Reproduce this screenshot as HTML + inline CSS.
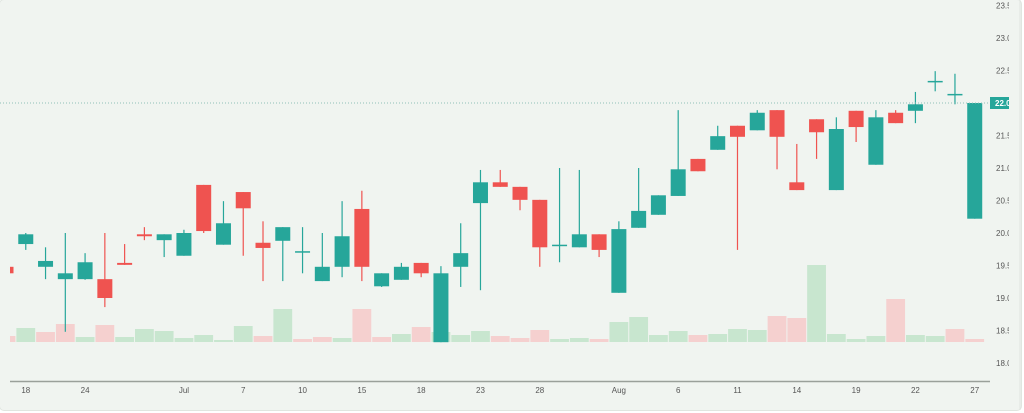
<!DOCTYPE html>
<html><head><meta charset="utf-8"><style>
body{margin:0;width:1024px;height:413px;overflow:hidden;background:#fff;font-family:"Liberation Sans",sans-serif}
#card{position:absolute;left:0;top:0;width:1021px;height:410px;background:#f0f4f0;border-radius:4px;box-shadow:0 0 0 1px #e0e6e0}
svg{position:absolute;left:0;top:0}
</style></head><body>
<div id="card"></div>
<svg id="chart" width="1024" height="413"></svg>
<script>
const opens  =[19.48,19.83,19.48,19.29,19.29,19.29,19.54,19.98,19.89,19.65,20.74,19.82,20.63,19.85,19.88,19.71,19.26,19.48,20.37,19.18,19.28,19.54,18.32,19.48,20.46,20.78,20.71,20.51,19.80,19.78,19.98,19.08,20.08,20.28,20.57,21.14,21.28,21.65,21.58,21.89,20.78,21.75,20.66,21.88,21.05,21.85,21.88,22.34,22.14,20.22];
const closes =[19.38,19.98,19.57,19.38,19.55,19.00,19.51,19.95,19.98,20.00,20.03,20.15,20.38,19.77,20.09,19.72,19.48,19.95,19.48,19.38,19.48,19.38,19.38,19.69,20.78,20.71,20.51,19.78,19.82,19.98,19.74,20.06,20.34,20.58,20.98,20.95,21.49,21.48,21.85,21.48,20.66,21.55,21.60,21.63,21.78,21.69,21.98,22.34,22.14,22.00];
const highs  =[19.48,20.00,19.78,20.00,19.69,20.00,19.83,20.09,19.98,20.05,20.74,20.49,20.63,20.18,20.09,20.09,20.00,20.49,20.65,19.38,19.54,19.54,19.49,20.15,20.97,20.97,20.71,20.51,21.00,20.97,19.98,20.18,21.00,20.58,21.89,21.14,21.65,21.65,21.89,21.89,21.37,21.75,21.78,21.88,21.89,21.89,22.17,22.49,22.45,22.00];
const lows   =[19.38,19.74,19.29,18.48,19.28,18.86,19.51,19.89,19.63,19.65,20.00,19.82,19.65,19.26,19.26,19.38,19.26,19.32,19.26,19.17,19.28,19.32,18.32,19.17,19.12,20.71,20.35,19.48,19.55,19.78,19.63,19.08,20.08,20.28,20.57,20.95,21.28,19.74,21.58,20.98,20.66,21.14,20.66,21.40,21.05,21.69,21.69,22.18,21.98,20.22];
const volumes=[6,14,10,18,5,17,5,13,11,4,7,2,16,6,33,3,5,4,33,5,8,15,10,7,11,6,4,12,3,4,3,20,25,7,11,7,8,13,12,26,24,77,8,3,6,43,7,6,13,3];
const volUp  =[0,1,0,0,1,0,1,1,1,1,1,1,1,0,1,0,0,1,0,0,1,0,1,1,1,0,0,0,1,1,0,1,1,1,1,0,1,1,1,0,0,1,1,1,1,0,1,1,0,0];
const tickIdx=[1,4,9,12,15,18,21,24,27,31,34,37,40,43,46,49];
const tickLabels=["18","24","Jul","7","10","15","18","23","28","Aug","6","11","14","19","22","27"];
const priceTicks=[23.5,23.0,22.5,22.0,21.5,21.0,20.5,20.0,19.5,19.0,18.5,18.0];
const lastPrice=22.0;

const NS="http://www.w3.org/2000/svg";
const svg=document.getElementById('chart');
const xOf=i=>6+i*19.77;           // index 0 is the clipped partial candle
const yOf=p=>103+(22-p)*65;
const vY=v=>342-v;
function mk(tag,attrs,parent){const e=document.createElementNS(NS,tag);for(const k in attrs)e.setAttribute(k,attrs[k]);(parent||svg).appendChild(e);return e;}

const defs=mk('defs',{});
const cp=mk('clipPath',{id:'plot'},defs);
mk('rect',{x:10,y:0,width:978,height:380},cp);
const cp2=mk('clipPath',{id:'axisclip'},defs);
mk('rect',{x:988,y:0,width:21,height:413},cp2);
const g=mk('g',{'clip-path':'url(#plot)'});



volumes.forEach((v,i)=>{
  const r=mk('rect',{x:xOf(i)-9.4,y:vY(v),width:18.8,height:v,fill:volUp[i]?'#c8e6cf':'#f5d0cf'},g);
  
  
});
const pl=mk('line',{x1:0,x2:990,y1:yOf(lastPrice),y2:yOf(lastPrice),stroke:'#8fbfb8','stroke-width':1,'stroke-dasharray':'1 2'});


opens.forEach((o,i)=>{
  const c=closes[i],up=c>=o,col=up?'#26a69a':'#ef5350',x=xOf(i);
  const w=mk('line',{x1:x,x2:x,y1:yOf(highs[i]),y2:yOf(lows[i]),stroke:col,'stroke-width':1.2},g);
  
  
  const top=yOf(Math.max(o,c)),h=Math.max(1.5,Math.abs(yOf(o)-yOf(c)));
  const b=mk('rect',{x:x-7.5,y:top,width:15,height:h,fill:col},g);
  
  
});
const ax=mk('line',{x1:10,x2:990,y1:381.5,y2:381.5,stroke:'#9aa09a','stroke-width':1.5});


tickIdx.forEach((ti,k)=>{
  const t=mk('text',{x:xOf(ti),y:393,'text-anchor':'middle','font-size':8,fill:'#555'});
  t.textContent=tickLabels[k];
  
  
});
const yb=mk('line',{x1:1020,x2:1020,y1:0,y2:410,stroke:'#e0e4e0','stroke-width':1});


const ya=mk('g',{'clip-path':'url(#axisclip)'});


priceTicks.forEach(p=>{
  const t=mk('text',{x:996,y:yOf(p)+3,'font-size':8,fill:'#555'},ya);
  t.textContent=p.toFixed(1);
  
  
});
const lb=mk('rect',{x:990,y:yOf(lastPrice)-6,width:20,height:12,fill:'#26a69a'},ya);


const lt=mk('text',{x:995,y:yOf(lastPrice)+3,'font-size':8,fill:'#fff','font-weight':'bold'},ya);
lt.textContent=lastPrice.toFixed(1);


</script>
</body></html>
